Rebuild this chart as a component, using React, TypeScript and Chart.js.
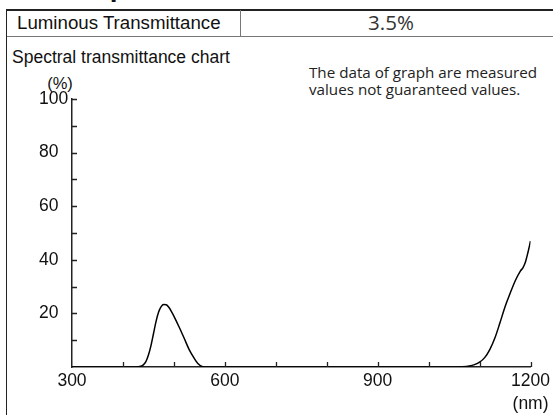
import React, { useEffect, useRef } from "react";
import { Chart, registerables } from "chart.js";

Chart.register(...registerables);

const wavelengths = [
  300, 400, 425, 435, 440, 445, 450, 455, 460, 465, 470, 475, 480, 485, 490, 495,
  500, 510, 520, 530, 540, 547, 555, 565, 700, 900, 1050, 1065, 1080, 1090, 1100,
  1110, 1120, 1130, 1140, 1150, 1160, 1170, 1180, 1185, 1190, 1195, 1200,
];
const transmittance = [
  0, 0, 0, 0.3, 0.8, 2, 4.5, 8, 12.5, 17, 20.5, 22.5, 23.3, 23.2, 22.3, 20.8,
  19, 15, 10.8, 6.5, 3.2, 1.3, 0.2, 0, 0, 0, 0, 0.1, 0.4, 0.9, 1.8,
  3.5, 6.5, 10.8, 16.5, 22.5, 27.5, 32.2, 35.8, 37, 39.2, 42.8, 47,
];
const xLabelValues = [300, 600, 900, 1200];
const yLabelValues = [20, 40, 60, 80, 100];
const xUnit = "(nm)";
const yUnit = "(%)";
const luminousLabel = "Luminous Transmittance";
const luminousValue = "3.5%";
const chartTitle = "Spectral transmittance chart";
const noteLines = ["The data of graph are measured", "values not guaranteed values."];

const ARIAL = '"Liberation Sans", Arial, sans-serif';
const MYRIAD = '"Open Sans", "Noto Sans", sans-serif';

const innerTicks = {
  id: "innerTicks",
  afterDraw(chart: any) {
    const ctx = chart.ctx;
    const xs = chart.scales.x;
    const ys = chart.scales.y;
    const area = chart.chartArea;
    ctx.save();
    ctx.strokeStyle = "#222";
    ctx.lineWidth = 1.3;
    ctx.beginPath();
    xs.ticks.forEach((t: any) => {
      if (t.value === xs.min) return;
      const px = Math.round(xs.getPixelForValue(t.value)) + 0.5;
      ctx.moveTo(px, area.bottom);
      ctx.lineTo(px, area.bottom - 5);
    });
    ys.ticks.forEach((t: any) => {
      if (t.value === ys.min) return;
      const py = Math.round(ys.getPixelForValue(t.value)) + 0.5;
      ctx.moveTo(area.left, py);
      ctx.lineTo(area.left + 5, py);
    });
    ctx.stroke();
    ctx.restore();
  },
};

function SpectralChart() {
  const ref = useRef<HTMLCanvasElement | null>(null);
  useEffect(() => {
    if (!ref.current) return;
    const chart = new Chart(ref.current, {
      type: "line",
      data: {
        datasets: [
          {
            data: wavelengths.map((w, i) => ({ x: w, y: transmittance[i] })),
            borderColor: "#000",
            borderWidth: 1.5,
            pointRadius: 0,
            cubicInterpolationMode: "monotone",
            fill: false,
          },
        ],
      },
      options: {
        animation: false,
        responsive: false,
        devicePixelRatio: 1,
        layout: { padding: { left: 39, top: 99, right: 21, bottom: 0 } },
        plugins: { legend: { display: false }, tooltip: { enabled: false } },
        scales: {
          x: {
            type: "linear",
            min: 300,
            max: 1200,
            afterFit: (s: any) => {
              s.height = 48;
            },
            border: { display: true, color: "#222", width: 1.5 },
            grid: { drawOnChartArea: false, drawTicks: false },
            ticks: {
              stepSize: 100,
              autoSkip: false,
              maxRotation: 0,
              padding: 3,
              color: "#111",
              font: { family: ARIAL, size: 17.5, lineHeight: 1.3 },
              callback: (v: any) => {
                const n = Number(v);
                if (!xLabelValues.includes(n)) return "";
                if (n === 1200) return [String(n), xUnit];
                return String(n);
              },
            },
          },
          y: {
            min: 0,
            max: 100,
            afterFit: (s: any) => {
              s.width = 33;
            },
            border: { display: true, color: "#222", width: 1.5 },
            grid: { drawOnChartArea: false, drawTicks: false },
            ticks: {
              stepSize: 10,
              autoSkip: false,
              crossAlign: "far",
              color: "#111",
              font: { family: ARIAL, size: 17.5 },
              callback: (v: any) => (yLabelValues.includes(Number(v)) ? String(v) : ""),
            },
          },
        },
      },
      plugins: [innerTicks],
    } as any);
    return () => chart.destroy();
  }, []);
  return (
    <canvas
      ref={ref}
      width={553}
      height={415}
      style={{ position: "absolute", left: 0, top: 0, width: 553, height: 415 }}
    />
  );
}

export default function App() {
  return (
    <div
      style={{
        position: "fixed",
        left: 0,
        top: 0,
        width: 553,
        height: 415,
        overflow: "hidden",
        background: "#fff",
        fontFamily: ARIAL,
        color: "#111",
      }}
    >
      <div
        style={{
          position: "absolute",
          left: 88,
          top: -27,
          fontFamily: ARIAL,
          fontWeight: "bold",
          fontSize: 28,
          lineHeight: "28px",
          whiteSpace: "nowrap",
          color: "#111",
        }}
      >
        Optical
      </div>
      {/* table frame */}
      <div
        style={{
          position: "absolute",
          left: 6,
          top: 9,
          width: 600,
          height: 420,
          borderLeft: "1.5px solid #222",
          borderTop: "2px solid #222",
        }}
      />
      <div
        style={{
          position: "absolute",
          left: 7,
          top: 36,
          width: 600,
          height: 0,
          borderTop: "1.5px solid #777",
        }}
      />
      <div
        style={{
          position: "absolute",
          left: 240,
          top: 10,
          width: 0,
          height: 27,
          borderLeft: "1px solid #777",
        }}
      />
      <div
        style={{
          position: "absolute",
          left: 17,
          top: 12,
          fontSize: 18.7,
          lineHeight: "22px",
          whiteSpace: "nowrap",
        }}
      >
        {luminousLabel}
      </div>
      <div
        style={{
          position: "absolute",
          left: 291,
          width: 200,
          top: 9,
          textAlign: "center",
          fontFamily: MYRIAD,
          fontSize: 20.5,
          lineHeight: "26px",
          color: "#333",
          whiteSpace: "nowrap",
        }}
      >
        {luminousValue}
      </div>
      <div
        style={{
          position: "absolute",
          left: 12,
          top: 46,
          fontSize: 17.5,
          lineHeight: "22px",
          whiteSpace: "nowrap",
        }}
      >
        {chartTitle}
      </div>
      <div
        style={{
          position: "absolute",
          left: 40,
          width: 40,
          top: 74,
          textAlign: "center",
          fontSize: 16.5,
          lineHeight: "19px",
        }}
      >
        {yUnit}
      </div>
      <div
        style={{
          position: "absolute",
          left: 309,
          top: 64,
          fontFamily: MYRIAD,
          fontSize: 15.2,
          lineHeight: "17px",
          color: "#222",
          whiteSpace: "nowrap",
        }}
      >
        {noteLines.map((l, i) => (
          <div key={i}>{l}</div>
        ))}
      </div>
      <SpectralChart />
    </div>
  );
}
